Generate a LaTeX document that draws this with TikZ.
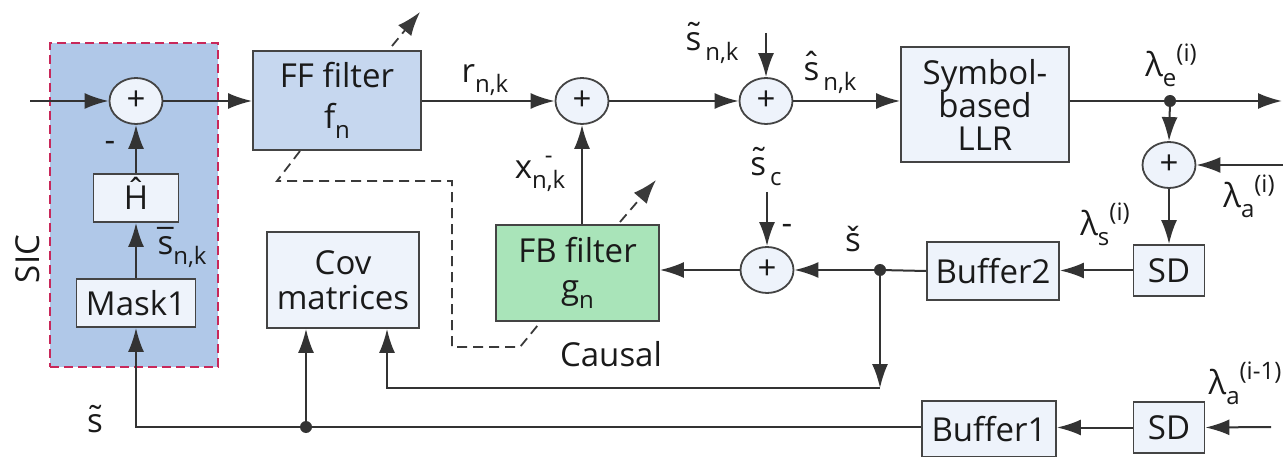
\documentclass[tikz,border=0pt]{standalone}
\usepackage{fontspec}
\setmainfont{Open Sans}
\usetikzlibrary{arrows.meta,shapes.geometric}
\definecolor{lineC}{HTML}{333333}
\definecolor{boxC}{HTML}{444444}
\definecolor{boxF}{HTML}{EEF3FB}
\definecolor{ffF}{HTML}{C6D7EF}
\definecolor{fbF}{HTML}{A9E4B9}
\definecolor{sicF}{HTML}{B0C8E8}
\definecolor{sicB}{HTML}{C8285A}
\definecolor{txtC}{HTML}{1A1A1A}
\definecolor{dashC}{HTML}{3A3A3A}
\newcommand\sbs[1]{\raisebox{-0.3em}{\fontsize{24}{24}\selectfont #1}}
\newcommand\sps[1]{\raisebox{0.45em}{\fontsize{24}{24}\selectfont #1}}
\newcommand\ac[2]{\ooalign{#2\cr\hidewidth#1\hidewidth\cr}}
\begin{document}
\begin{tikzpicture}[x=1pt,y=-1pt,
  every node/.style={font=\fontsize{33}{38}\selectfont, text=txtC},
  box/.style={draw=boxC, line width=1.8pt, fill=boxF, inner sep=0pt, align=center},
  sumc/.style={ellipse, draw=boxC, line width=1.8pt, fill=boxF, minimum width=53pt, minimum height=46pt, inner sep=0pt},
  ln/.style={draw=lineC, line width=2pt},
  arr/.style={ln, -{Latex[length=24pt,width=16pt]}},
  dsh/.style={draw=dashC, line width=1.8pt, dash pattern=on 10pt off 6pt},
  lbl/.style={inner sep=0pt}
]
\useasboundingbox (0,0) rectangle (1283,457);
% SIC block
\node[draw=sicB, fill=sicF, line width=2pt, dash pattern=on 9pt off 5pt, minimum width=168pt, minimum height=324pt, inner sep=0pt] (sic) at (134,205) {};
\node[rotate=90, lbl] (siclbl) at (28,259) {SIC};
\node[sumc] (s1) at (136,101) {+};
\node[box, minimum width=85pt, minimum height=48pt] (H) at (136,198) {\ac{\raisebox{0.22em}{ˆ}}{H}};
\node[box, minimum width=119pt, minimum height=48pt] (mask) at (136,303) {Mask1};
% main boxes
\node[box, fill=ffF, minimum width=168pt, minimum height=99pt, font=\fontsize{33}{41}\selectfont] (ff) at (337,100.5) {FF filter\\f\sbs{n}};
\node[box, minimum width=152pt, minimum height=96pt, font=\fontsize{33}{35}\selectfont] (cov) at (343,280) {Cov\\matrices};
\node[sumc] (s2) at (582,101) {+};
\node[box, fill=fbF, minimum width=163pt, minimum height=96pt, font=\fontsize{33}{36}\selectfont] (fb) at (577.5,273) {FB filter\\g\sbs{n}};
\node[sumc] (s3) at (766,101) {+};
\node[box, minimum width=168pt, minimum height=115pt, font=\fontsize{33}{33}\selectfont] (llr) at (985,104.5) {Symbol-\\based\\LLR};
\node[sumc] (s4) at (1169,165) {+};
\node[box, minimum width=71pt, minimum height=51pt] (sd1) at (1169,270.5) {SD};
\node[box, minimum width=132pt, minimum height=58pt] (buf2) at (993,271) {Buffer2};
\node[sumc] (s5) at (767,270) {+};
\node[box, minimum width=134pt, minimum height=56pt] (buf1) at (989,429) {Buffer1};
\node[box, minimum width=71pt, minimum height=51pt] (sd2) at (1169,427.5) {SD};
% coordinates
\coordinate (in1) at (30,101);
\coordinate (t3) at (766,33);
\coordinate (j1) at (1170,101);
\coordinate (out1) at (1282,101);
\coordinate (in4) at (1283,165);
\coordinate (j2) at (880,270);
\coordinate (t5) at (767,192);
\coordinate (c1) at (880,388);
\coordinate (c2) at (387,388);
\coordinate (in6) at (1271,427);
\coordinate (b1) at (136,427);
\coordinate (j3) at (306,427);
% connectors
\draw[arr] (in1) -- (s1.west);
\draw[arr] (s1.east) -- (s1.east -| ff.west);
\draw[arr] (H.north) -- (s1.south);
\draw[arr] (mask.north) -- (H.south);
\draw[arr] (s2.west -| ff.east) -- (s2.west);
\draw[arr] (s2.south |- fb.north) -- (s2.south);
\draw[arr] (s2.east) -- (s3.west);
\draw[arr] (t3) -- (s3.north);
\draw[arr] (s3.east) -- (s3.east -| llr.west);
\draw[ln] (j1 -| llr.east) -- (j1);
\draw[arr] (j1) -- (out1);
\fill[lineC] (j1) circle (6pt);
\draw[arr] (j1) -- (s4.north);
\draw[arr] (in4) -- (s4.east);
\draw[arr] (s4.south) -- (s4.south |- sd1.north);
\draw[arr] (sd1.west) -- (sd1.west -| buf2.east);
\draw[ln] (buf2.west) -- (j2);
\draw[arr] (j2) -- (s5.east);
\fill[lineC] (j2) circle (6pt);
\draw[arr] (t5) -- (s5.north);
\draw[arr] (s5.west) -- (s5.west -| fb.east);
\draw[arr] (j2) -- (c1);
\draw[arr] (c1) -- (c2) -- (c2 |- cov.south);
\draw[arr] (in6) -- (sd2.east);
\draw[arr] (sd2.west) -- (sd2.west -| buf1.east);
\draw[arr] (buf1.west |- b1) -- (b1) -- (mask.south);
\draw[arr] (j3) -- (j3 |- cov.south);
\fill[lineC] (j3) circle (6pt);
% dashed adaptation marks
\coordinate (da1) at (392,46);
\coordinate (da2) at (420,12);
\coordinate (db1) at (620,222);
\coordinate (db2) at (656,180);
\draw[dsh, -{Latex[length=24pt,width=17pt]}] (da1) -- (da2);
\draw[dsh, -{Latex[length=24pt,width=17pt]}] (db1) -- (db2);
\coordinate (e1) at (300,151);
\coordinate (e2) at (277,181);
\coordinate (e3) at (452,181);
\coordinate (e4) at (452,347);
\coordinate (e5) at (520,347);
\coordinate (e6) at (538,325);
\draw[dsh] (e1) -- (e2) -- (e3) -- (e4) -- (e5) -- (e6);
% labels
\node[lbl] (lm1) at (110,146) {-};
\node[lbl] (lsb) at (182,252) {\ac{¯}{s}\sbs{n,k}};
\node[lbl] (lr) at (485,80) {r\sbs{n,k}};
\node[lbl] (lx) at (540,170) {x\ooalign{\sbs{n,k}\cr\hidewidth\sps{-}\hidewidth\cr}};
\node[lbl] (lst) at (712,48) {\ac{\raisebox{0.12em}{˜}}{s}\sbs{\,n,k}};
\node[lbl] (lsh) at (830,78) {\ac{\raisebox{0.12em}{ˆ}}{s}\sbs{\,n,k}};
\node[lbl] (lsc) at (766,172) {\ac{\raisebox{0.12em}{˜}}{s}\sbs{\,c}};
\node[lbl] (lm2) at (787,229) {-};
\node[lbl] (lsv) at (853,243) {\ac{ˇ}{s}};
\node[lbl] (lcau) at (611,354) {Causal};
\node[lbl] (lle) at (1171,65) {λ\sbs{e}\sps{(i)}};
\node[lbl] (lla) at (1249,196) {λ\sbs{a}\sps{(i)}};
\node[lbl] (lls) at (1105,224) {λ\sbs{s}\sps{(i)}};
\node[lbl] (lla1) at (1245,383) {λ\sbs{a}\sps{(i-1)}};
\node[lbl] (lsbot) at (95,424) {\ac{\raisebox{0.12em}{˜}}{s}};
\end{tikzpicture}
\end{document}
